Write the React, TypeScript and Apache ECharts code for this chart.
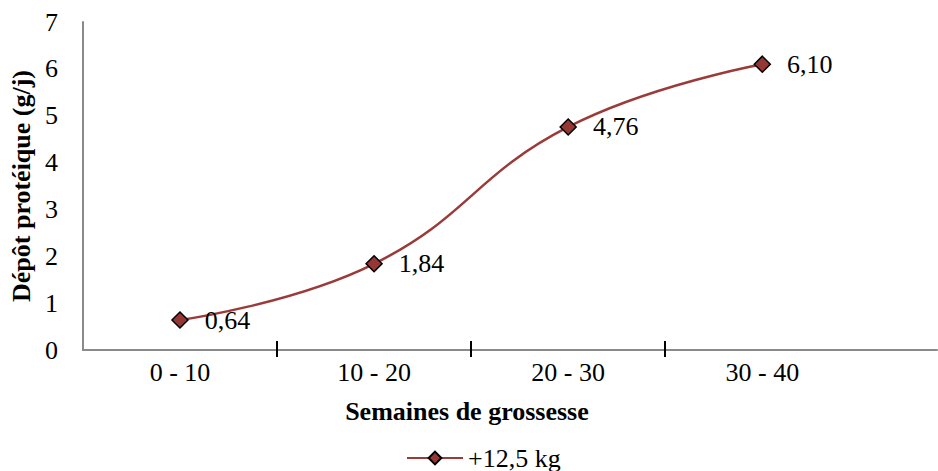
import React, { useEffect, useRef } from "react";
import * as echarts from "echarts";

const categories = ["0 - 10", "10 - 20", "20 - 30", "30 - 40"];
const seriesName = "+12,5 kg";
const values = [0.64, 1.84, 4.76, 6.1];
const yTicks = [0, 1, 2, 3, 4, 5, 6, 7];
const X_MAX = 4.4; // the axis runs on past the last category band

const FONT = "'Liberation Serif', 'Times New Roman', serif";
const LINE = "#9a3b39";
const FILL = "#953735";
const AXIS = "#8a8a8a";

export default function App() {
  const ref = useRef<HTMLDivElement>(null);
  useEffect(() => {
    if (!ref.current) return;
    const chart = echarts.init(ref.current, null, { renderer: "svg" });
    const yMin = yTicks[0];
    const yMax = yTicks[yTicks.length - 1];
    const centers = categories.map((_, i) => i + 0.5);
    const bounds = categories.slice(1).map((_, i) => i + 1);
    chart.setOption({
      animation: false,
      backgroundColor: "#ffffff",
      textStyle: { fontFamily: FONT },
      grid: { left: 79, right: 1, top: 22, bottom: 121, containLabel: false },
      legend: {
        data: [seriesName],
        left: 401,
        top: 440,
        itemWidth: 56,
        itemHeight: 16,
        itemGap: 5,
        textStyle: { fontFamily: FONT, fontSize: 26, color: "#000" },
      },
      xAxis: [
        {
          type: "value",
          min: 0,
          max: X_MAX,
          position: "bottom",
          axisLine: { show: true, onZero: false, lineStyle: { color: AXIS, width: 2 } },
          axisTick: { show: false },
          axisLabel: { show: false },
          splitLine: { show: false },
          name: "Semaines de grossesse",
          nameLocation: "middle",
          nameGap: 48,
          nameTextStyle: {
            fontFamily: FONT,
            fontSize: 26,
            fontWeight: "bold",
            color: "#000",
            padding: [0, 86, 0, 0],
          },
        },
        {
          type: "value",
          min: 0,
          max: X_MAX,
          position: "bottom",
          offset: 7,
          axisLine: { show: false, onZero: false },
          axisTick: {
            show: true,
            inside: true,
            length: 16,
            customValues: bounds,
            lineStyle: { color: "#000", width: 2 },
          },
          axisLabel: {
            customValues: centers,
            margin: 2,
            fontFamily: FONT,
            fontSize: 26,
            color: "#000",
            formatter: (v: number) => categories[Math.floor(v)] ?? "",
          },
          splitLine: { show: false },
        },
      ],
      yAxis: {
        type: "value",
        min: yMin,
        max: yMax,
        interval: 1,
        axisLine: { show: true, lineStyle: { color: AXIS, width: 2 } },
        axisTick: { show: false },
        splitLine: { show: false },
        axisLabel: {
          margin: 25,
          fontFamily: FONT,
          fontSize: 26,
          color: "#000",
        },
        name: "Dépôt protéique (g/j)",
        nameLocation: "middle",
        nameRotate: 90,
        nameGap: 44,
        nameTextStyle: {
          fontFamily: FONT,
          fontSize: 26,
          fontWeight: "bold",
          color: "#000",
        },
      },
      series: [
        {
          name: seriesName,
          type: "line",
          xAxisIndex: 1,
          data: values.map((v, i) => [centers[i], v]),
          smooth: 0.45,
          symbol: "diamond",
          symbolSize: 16,
          lineStyle: { color: LINE, width: 2.5 },
          itemStyle: { color: FILL, borderColor: "#000", borderWidth: 1.5 },
          label: {
            show: true,
            position: "right",
            distance: 16,
            fontFamily: FONT,
            fontSize: 26,
            color: "#000",
            formatter: (p: any) => Number(p.value[1]).toFixed(2).replace(".", ","),
          },
        },
      ],
    });
    return () => chart.dispose();
  }, []);
  return (
    <div
      ref={ref}
      style={{ position: "fixed", left: 0, top: 0, width: 938, height: 471 }}
    />
  );
}
